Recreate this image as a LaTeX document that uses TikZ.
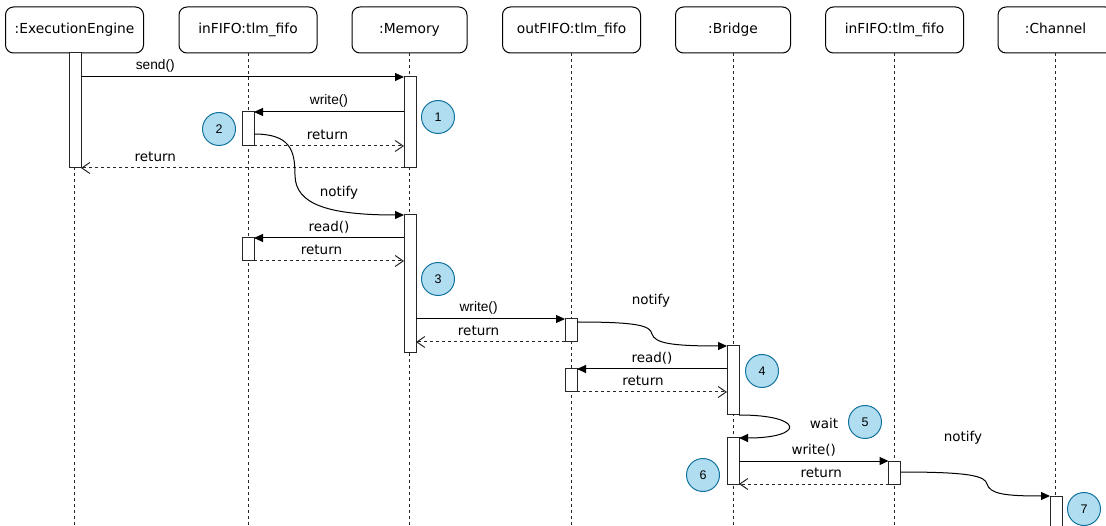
\documentclass[tikz,border=0pt]{standalone}
\usepackage{fontspec}
\setmainfont{DejaVu Sans}
\newfontfamily\arialfont{Liberation Sans}
\usetikzlibrary{arrows.meta,calc}

\definecolor{numfill}{HTML}{B1DDF0}
\definecolor{numline}{HTML}{10739E}

\begin{document}
\begin{tikzpicture}[x=1pt,y=-1pt,
  every node/.style={font=\fontsize{13.5}{15}\selectfont},
  head/.style={draw=black, line width=1pt, rounded corners=8pt, minimum height=46pt,
    inner sep=0pt, fill=white, text height=10pt, text depth=3pt,
    font=\fontsize{13.8}{15}\selectfont},
  wide/.style={minimum width=138pt},
  narrow/.style={minimum width=115pt},
  life/.style={draw=black!85, line width=1pt, dash pattern=on 3pt off 3pt},
  act/.style={draw=black!85, fill=white, line width=1pt, minimum width=12pt,
    inner sep=0pt, outer sep=0pt, anchor=north},
  call/.style={draw=black, line width=1pt, -{Triangle[length=9pt,width=8pt]}},
  ret/.style={draw=black!85, line width=1pt, dash pattern=on 3pt off 3pt,
    -{Straight Barb[length=8pt,width=11pt]}},
  sig/.style={draw=black, line width=1pt, -{Triangle[length=9pt,width=8pt]}},
  num/.style={circle, draw=numline, fill=numfill, line width=1pt, minimum size=33pt,
    inner sep=0pt, font=\arialfont\fontsize{12.5}{13}\selectfont},
  lbl/.style={inner sep=0pt, yshift=11pt},
  albl/.style={lbl, font=\arialfont\fontsize{13.7}{15}\selectfont}]

\useasboundingbox (0,0) rectangle (1106,526);
\clip (0,0) rectangle (1106,526);

% participants
\node[head, wide]   (eeh) at (74.5,30)  {:ExecutionEngine};
\node[head, wide]   (ffh) at (248,30)   {inFIFO:tlm\_fifo};
\node[head, narrow] (meh) at (409.5,30) {:Memory};
\node[head, wide]   (ofh) at (571.5,30) {outFIFO:tlm\_fifo};
\node[head, narrow] (brh) at (733,30)   {:Bridge};
\node[head, wide]   (ifh) at (894.5,30) {inFIFO:tlm\_fifo};
\node[head, narrow] (chh) at (1055.5,30) {:Channel};

% lifelines
\coordinate (bottom) at (0,530);
\foreach \h in {eeh,ffh,meh,ofh,brh,ifh,chh}
  \draw[life] (\h.south) -- (\h.south |- bottom);

% activations
\node[act, minimum height=115pt] (ee1)  at (75,53)    {};
\node[act, minimum height=91pt]  (mem1) at (410,77)   {};
\node[act, minimum height=34pt]  (ff1)  at (248,112)  {};
\node[act, minimum height=138pt] (mem2) at (410,215)  {};
\node[act, minimum height=23pt]  (ff2)  at (248,238)  {};
\node[act, minimum height=23pt]  (of1)  at (571,319)  {};
\node[act, minimum height=69pt]  (br1)  at (733,346)  {};
\node[act, minimum height=23pt]  (of2)  at (571,369)  {};
\node[act, minimum height=46pt]  (br2)  at (733,438)  {};
\node[act, minimum height=23pt]  (if2)  at (894.5,461) {};
\node[act, minimum height=50pt]  (ch1)  at (1056,496) {};

% step markers
\node[num] (n1) at (438,117) {1};
\node[num] (n2) at (219,129) {2};
\node[num] (n3) at (438,279) {3};
\node[num] (n4) at (762,371) {4};
\node[num] (n5) at (865,422) {5};
\node[num] (n6) at (703,475) {6};
\node[num] (n7) at (1084,509) {7};

% send / return
\draw[call] (ee1.east |- mem1.north west) -- node[albl, pos=0.23] {send()} (mem1.north west);
\draw[call] (mem1.west |- ff1.north east) -- node[albl, pos=0.5] {write()} (ff1.north east);
\draw[ret] (ff1.south east) -- node[lbl, pos=0.49] {return} (mem1.west |- ff1.south east);
\draw[ret] (mem1.south west) -- node[lbl, pos=0.77] {return} (ee1.south east);

% notify from the inFIFO to the memory
\coordinate (ff1out) at ($(ff1.north east)+(0,22)$);
\draw[sig] (ff1out) .. controls (290,134) and (295,150) .. (295,175)
  .. controls (295,205) and (330,215) .. (mem2.north west);
\node (t1) at (339,193) {notify};

% read / return
\draw[call] (mem2.west |- ff2.north east) -- node[lbl, pos=0.5] {read()} (ff2.north east);
\draw[ret] (ff2.south east) -- node[lbl, pos=0.45] {return} (mem2.west |- ff2.south east);

% write to outFIFO / return
\draw[call] (mem2.east |- of1.north west) -- node[albl, pos=0.42] {write()} (of1.north west);
\draw[ret] (of1.south west) -- node[lbl, pos=0.58] {return} (mem2.east |- of1.south west);

% notify from outFIFO to the bridge
\coordinate (of1out) at ($(of1.north east)+(0,3)$);
\draw[sig] (of1out) .. controls (640,322) and (650,326) .. (652,334)
  .. controls (655,343) and (670,346) .. (br1.north west);
\node (t2) at (651,301) {notify};

% bridge reads outFIFO
\coordinate (br1r) at ($(br1.north west)+(0,23)$);
\draw[call] (br1r) -- node[lbl, pos=0.5] {read()} (of2.north east);
\draw[ret] (of2.south east) -- node[lbl, pos=0.44] {return} (br1.west |- of2.south east);

% wait
\draw[sig] (br1.south east) .. controls (805,415) and (805,438) .. (br2.north east);
\node (t3) at (824,423) {wait};

% write to inFIFO / return
\draw[call] (br2.east |- if2.north west) -- node[lbl, pos=0.5] {write()} (if2.north west);
\draw[ret] (if2.south west) -- node[lbl, pos=0.45] {return} (br2.south east);

% notify from inFIFO to the channel
\coordinate (if2out) at ($(if2.north east)+(0,11)$);
\draw[sig] (if2out) .. controls (970,472) and (985,476) .. (987,484)
  .. controls (990,494) and (1005,496) .. (ch1.north west);
\node (t4) at (963,438) {notify};

\end{tikzpicture}
\end{document}
